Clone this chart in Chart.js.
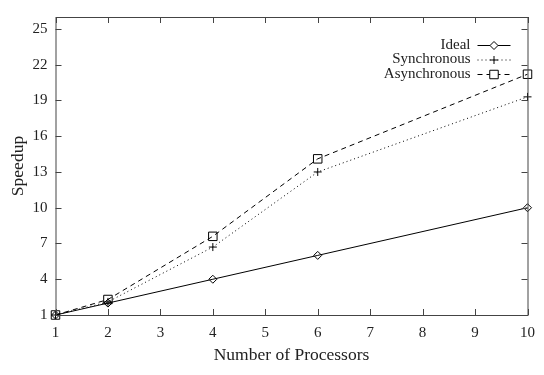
<!DOCTYPE html>
<html lang="en">
<head>
    <meta charset="UTF-8">
    <title>Speedup</title>
    <script src="https://cdn.jsdelivr.net/npm/chart.js"></script>
    <style>
        html, body { margin: 0; padding: 0; background: #fff; }
        #wrap { width: 544px; height: 375px; }
    </style>
</head>
<body>
    <div id="wrap"><canvas id="chart"></canvas></div>

    <script>
        // data
        const processors = [1, 2, 4, 6, 10];
        const idealSpeedup = [1, 2, 4, 6, 10];
        const syncSpeedup = [1, 2.1, 6.7, 13.0, 19.3];
        const asyncSpeedup = [1, 2.3, 7.6, 14.1, 21.2];
        const xTicks = [1, 2, 3, 4, 5, 6, 7, 8, 9, 10];
        const yTicks = [1, 4, 7, 10, 13, 16, 19, 22, 25];

        const family = '"Liberation Serif", "DejaVu Serif", serif';
        const tickFont = { family: family, size: 15 };
        const titleFont = { family: family, size: 17.5 };
        const ink = '#222';

        function pts(ys) {
            return processors.map((x, i) => ({ x: x, y: ys[i] }));
        }

        // box round the plot with inward ticks on all four sides (gnuplot look)
        const framePlugin = {
            id: 'frame',
            afterDatasetsDraw(chart) {
                const { ctx, chartArea: a, scales } = chart;
                const len = 6;
                ctx.save();
                ctx.strokeStyle = '#444';
                ctx.lineWidth = 1;
                ctx.strokeRect(a.left + 0.5, a.top + 0.5, a.right - a.left, a.bottom - a.top);
                ctx.beginPath();
                scales.x.ticks.forEach(t => {
                    const px = Math.round(scales.x.getPixelForValue(t.value)) + 0.5;
                    ctx.moveTo(px, a.bottom); ctx.lineTo(px, a.bottom - len);
                    ctx.moveTo(px, a.top); ctx.lineTo(px, a.top + len);
                });
                scales.y.ticks.forEach(t => {
                    const py = Math.round(scales.y.getPixelForValue(t.value)) + 0.5;
                    ctx.moveTo(a.left, py); ctx.lineTo(a.left + len, py);
                    ctx.moveTo(a.right, py); ctx.lineTo(a.right - len, py);
                });
                ctx.stroke();
                ctx.restore();
            }
        };

        // legend: text right aligned, sample line with marker on its right
        const keyPlugin = {
            id: 'key',
            afterDraw(chart) {
                const ctx = chart.ctx;
                const a = chart.chartArea;
                const textRight = a.right - 57;
                const x0 = a.right - 50, x1 = a.right - 17;
                ctx.save();
                ctx.font = tickFont.size + 'px ' + family;
                ctx.textAlign = 'right';
                ctx.textBaseline = 'middle';
                chart.data.datasets.forEach((ds, i) => {
                    const y = a.top + 28 + i * 14.5;
                    ctx.fillStyle = ink;
                    ctx.fillText(ds.label, textRight, y);
                    ctx.strokeStyle = ds.borderColor;
                    ctx.lineWidth = 1;
                    ctx.setLineDash(ds.borderDash || []);
                    ctx.beginPath();
                    ctx.moveTo(x0, y + 0.5); ctx.lineTo(x1, y + 0.5);
                    ctx.stroke();
                    ctx.setLineDash([]);
                    ctx.fillStyle = '#fff';
                    Chart.helpers.drawPoint(ctx, {
                        pointStyle: ds.pointStyle,
                        radius: ds.pointRadius,
                        borderWidth: 1,
                        rotation: 0
                    }, (x0 + x1) / 2, y + 0.5);
                });
                ctx.restore();
            }
        };

        const ctx = document.getElementById('chart').getContext('2d');
        new Chart(ctx, {
            type: 'line',
            data: {
                datasets: [
                    {
                        label: 'Ideal',
                        data: pts(idealSpeedup),
                        borderColor: '#000',
                        borderWidth: 1,
                        pointStyle: 'rectRot',
                        pointRadius: 4,
                        pointBorderColor: '#000',
                        pointBackgroundColor: 'rgba(0,0,0,0)',
                        pointBorderWidth: 1,
                        clip: false
                    },
                    {
                        label: 'Synchronous',
                        data: pts(syncSpeedup),
                        borderColor: '#000',
                        borderWidth: 1,
                        borderDash: [1, 3],
                        pointStyle: 'cross',
                        pointRadius: 4,
                        pointBorderColor: '#000',
                        pointBorderWidth: 1,
                        clip: false
                    },
                    {
                        label: 'Asynchronous',
                        data: pts(asyncSpeedup),
                        borderColor: '#000',
                        borderWidth: 1,
                        borderDash: [5, 4],
                        pointStyle: 'rect',
                        pointRadius: 6,
                        pointBorderColor: '#000',
                        pointBackgroundColor: 'rgba(0,0,0,0)',
                        pointBorderWidth: 1,
                        clip: false
                    }
                ]
            },
            options: {
                responsive: true,
                maintainAspectRatio: false,
                animation: false,
                layout: { padding: { top: 4, right: 14, left: 0, bottom: 0 } },
                plugins: {
                    legend: { display: false },
                    tooltip: { enabled: false }
                },
                scales: {
                    x: {
                        type: 'linear',
                        min: 1,
                        max: 10,
                        afterBuildTicks: axis => { axis.ticks = xTicks.map(v => ({ value: v })); },
                        afterFit: axis => { axis.height = 60; },
                        grid: { display: false, drawTicks: false },
                        border: { display: false },
                        ticks: { color: ink, font: tickFont, padding: 9, maxRotation: 0 },
                        title: {
                            display: true,
                            text: 'Number of Processors',
                            color: ink,
                            font: titleFont,
                            padding: { top: 0, bottom: 9 }
                        }
                    },
                    y: {
                        type: 'linear',
                        min: 1,
                        max: 26,
                        afterBuildTicks: axis => { axis.ticks = yTicks.map(v => ({ value: v })); },
                        afterFit: axis => { axis.width = 55.5; },
                        grid: { display: false, drawTicks: false },
                        border: { display: false },
                        ticks: { color: ink, font: tickFont, padding: 8 },
                        title: {
                            display: true,
                            text: 'Speedup',
                            color: ink,
                            font: titleFont,
                            padding: { top: 8, bottom: 0 }
                        }
                    }
                }
            },
            plugins: [framePlugin, keyPlugin]
        });
    </script>
</body>
</html>
